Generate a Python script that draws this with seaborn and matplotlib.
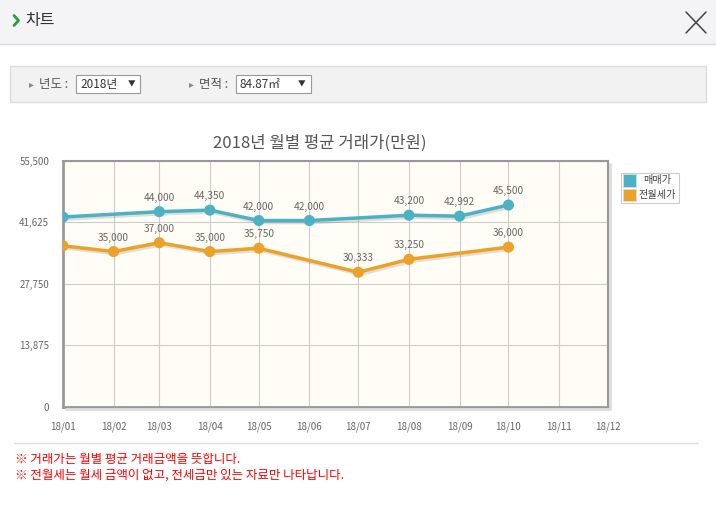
import pandas as pd
import numpy as np
import seaborn as sns
import matplotlib.pyplot as plt
import matplotlib.dates as mdates
import matplotlib.patheffects as pe
from matplotlib.patches import Rectangle
from matplotlib.lines import Line2D

# 월별 평균 거래가 (만원)
months = ['18/01', '18/02', '18/03', '18/04', '18/05', '18/06',
          '18/07', '18/08', '18/09', '18/10', '18/11', '18/12']
maemae = [42800, None, 44000, 44350, 42000, 42000, None, 43200, 42992, 45500, None, None]
jeonwol = [36300, 35000, 37000, 35000, 35750, None, 30333, 33250, None, 36000, None, None]
y_ticks = [0, 13875, 27750, 41625, 55500]
series_names = ['매매가', '전월세가']
series_colors = ['#4bb2c5', '#eaa228']

dates = pd.to_datetime(['20' + m.replace('/', '-') + '-01' for m in months])
df = pd.DataFrame({'date': dates, '매매가': maemae, '전월세가': jeonwol})

sns.set_theme(style='white')
plt.rcParams['font.family'] = ['Noto Sans CJK KR', 'DejaVu Sans']

W, H = 716, 516
fig = plt.figure(figsize=(W / 100, H / 100), dpi=100)
fig.patch.set_facecolor('white')


def fx(x):
    return x / W


def fy(y):
    return 1 - y / H


def frect(x0, y0, x1, y1, **kw):
    fig.patches.append(Rectangle((fx(x0), fy(y1)), fx(x1) - fx(x0), fy(y0) - fy(y1),
                                 transform=fig.transFigure, **kw))


# 상단 헤더
frect(0, 0, W, 44, facecolor='#f4f4f6', edgecolor='none')
fig.add_artist(Line2D([0, 1], [fy(44), fy(44)], color='#d6d6d6', lw=1, transform=fig.transFigure))
fig.add_artist(Line2D([fx(14), fx(18.5), fx(14)], [fy(15.5), fy(20.5), fy(25.5)], color='#2a9d3c',
                      lw=2, transform=fig.transFigure))
fig.text(fx(25), fy(21), '차트', color='#333333', fontsize=11.5, fontweight='medium', va='center')
fig.add_artist(Line2D([fx(686), fx(706)], [fy(12), fy(33)], color='#444444', lw=1.1, transform=fig.transFigure))
fig.add_artist(Line2D([fx(686), fx(706)], [fy(33), fy(12)], color='#444444', lw=1.1, transform=fig.transFigure))

# 검색 조건 박스
frect(10, 66, 706, 102, facecolor='#f2f2f2', edgecolor='#dddddd', lw=1)
fig.text(fx(29), fy(84), '▸', color='#888888', fontsize=7, va='center')
fig.text(fx(39), fy(84), '년도 :', color='#555555', fontsize=9, va='center')
frect(76, 75, 140, 93, facecolor='white', edgecolor='#999999', lw=0.8)
fig.text(fx(80), fy(84), '2018년', color='#333333', fontsize=8.5, va='center')
fig.text(fx(128), fy(84), '▼', color='#333333', fontsize=5.5, va='center')
fig.text(fx(189), fy(84), '▸', color='#888888', fontsize=7, va='center')
fig.text(fx(199), fy(84), '면적 :', color='#555555', fontsize=9, va='center')
frect(236, 75, 311, 93, facecolor='white', edgecolor='#999999', lw=0.8)
fig.text(fx(240), fy(84), '84.87㎡', color='#333333', fontsize=8.5, va='center')
fig.text(fx(298), fy(84), '▼', color='#333333', fontsize=5.5, va='center')

# 차트 영역
ax_l, ax_r, ax_t, ax_b = 63, 608, 160.7, 406.7
ax = fig.add_axes([fx(ax_l), fy(ax_b), fx(ax_r) - fx(ax_l), fy(ax_t) - fy(ax_b)])
ax.set_facecolor('#fffdf5')

shadow = [pe.SimpleLineShadow(offset=(1.5, -1.5), shadow_color='#000000', alpha=0.12), pe.Normal()]
for name, color in zip(series_names, series_colors):
    sub = df[['date', name]].dropna()
    sns.lineplot(data=sub, x='date', y=name, ax=ax, color=color, lw=2.5,
                 marker='o', markersize=8, markeredgewidth=0, label=name,
                 path_effects=shadow, legend=False, zorder=3)
    for d, v in zip(sub['date'], sub[name]):
        if d == dates[0]:
            continue
        ax.annotate(f'{int(v):,}', (d, v), xytext=(0, 6.5), textcoords='offset points',
                    ha='center', va='bottom', fontsize=7.3, color='#666666', zorder=4)

ax.set_xlim(dates[0], dates[-1])
ax.set_ylim(y_ticks[0], y_ticks[-1])
ax.set_xticks(dates)
ax.set_xticklabels(months)
ax.set_yticks(y_ticks)
ax.set_yticklabels([f'{v:,}' for v in y_ticks])
ax.grid(True, color='#cccccc', lw=0.8)
ax.set_axisbelow(True)
ax.set_xlabel('')
ax.set_ylabel('')
ax.tick_params(axis='both', labelsize=7, labelcolor='#666666', color='#999999',
               length=4, width=0.8, direction='out')
ax.tick_params(axis='x', pad=7)
ax.tick_params(axis='y', pad=6)
for s in ax.spines.values():
    s.set_color('#999999')
    s.set_linewidth(1.5)
ax.spines['left'].set_linewidth(2)
ax.spines['bottom'].set_linewidth(2)
# 테두리 그림자
fig.add_artist(Line2D([fx(ax_r + 2), fx(ax_r + 2)], [fy(ax_b + 2), fy(ax_t + 3)],
                      color='#dddddd', lw=2, transform=fig.transFigure))
fig.add_artist(Line2D([fx(ax_l + 3), fx(ax_r + 2)], [fy(ax_b + 2), fy(ax_b + 2)],
                      color='#dddddd', lw=2, transform=fig.transFigure))

fig.text(fx(320), fy(143), '2018년 월별 평균 거래가(만원)', color='#555555',
         fontsize=12, ha='center', va='center')

# 범례
frect(621, 173, 679, 203, facecolor='white', edgecolor='#cccccc', lw=0.8)
for i, (name, color) in enumerate(zip(series_names, series_colors)):
    yc = 180.5 + i * 14.5
    frect(623, yc - 6, 636, yc + 6, facecolor=color, edgecolor='#dddddd', lw=0.6)
    fig.text(fx(657), fy(yc), name, color='#444444', fontsize=7.3, ha='center', va='center')

# 하단 안내
fig.add_artist(Line2D([fx(14), fx(698)], [fy(443), fy(443)], color='#dddddd', lw=1, transform=fig.transFigure))
fig.text(fx(15), fy(460), '※ 거래가는 월별 평균 거래금액을 뜻합니다.', color='#ff0000', fontsize=9, va='center')
fig.text(fx(15), fy(475), '※ 전월세는 월세 금액이 없고, 전세금만 있는 자료만 나타납니다.', color='#ff0000', fontsize=9, va='center')

fig.savefig('out.png', dpi=100, facecolor='white')
